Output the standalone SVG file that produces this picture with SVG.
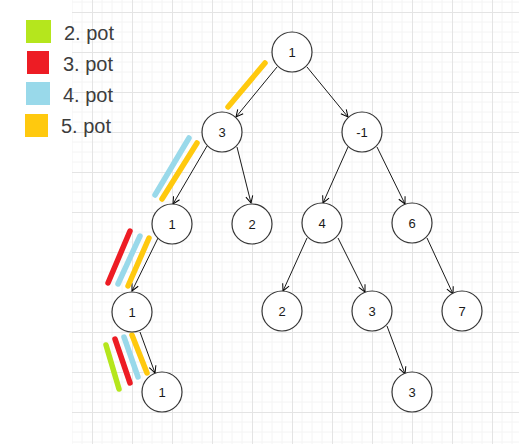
<svg xmlns="http://www.w3.org/2000/svg" width="519" height="444" viewBox="0 0 519 444">
  <defs>
    <pattern id="grid" x="12" y="12" width="40" height="40" patternUnits="userSpaceOnUse">
      <path d="M10,0 V40 M20,0 V40 M30,0 V40 M0,10 H40 M0,20 H40 M0,30 H40" stroke="#f4f4f4" stroke-width="1" fill="none"/>
      <path d="M0.5,0 V40 M0,0.5 H40" stroke="#e4e4e4" stroke-width="1" fill="none"/>
    </pattern>
    <marker id="arr" markerUnits="userSpaceOnUse" markerWidth="10" markerHeight="10" refX="8" refY="5" orient="auto">
      <path d="M1,1.5 L8,5 L1,8.5" fill="none" stroke="#000" stroke-width="1"/>
    </marker>
  </defs>
  <style>
    .node circle { fill: #ffffff; stroke: #363636; stroke-width: 1.2; }
    .node text { font-family: "Liberation Sans", Arial, sans-serif; font-size: 13px; fill: #1a1a1a; text-anchor: middle; }
    .edge { stroke: #1a1a1a; stroke-width: 1; fill: none; marker-end: url(#arr); }
    .mark { stroke-width: 5.5; stroke-linecap: round; fill: none; }
    .legend text { font-family: "Liberation Sans", Arial, sans-serif; font-size: 20px; fill: #3d3d3d; }
  </style>
  <rect x="0" y="0" width="519" height="444" fill="#ffffff"/>
  <rect x="72" y="0" width="447" height="444" fill="url(#grid)"/>

  <g id="legend" class="legend">
    <rect x="26" y="20" width="25" height="23" fill="#b5e61d"/>
    <text x="64" y="40">2. pot</text>
    <rect x="27" y="51" width="22" height="23" fill="#ed1c24"/>
    <text x="63" y="71">3. pot</text>
    <rect x="26" y="82" width="24" height="23" fill="#99d9ea"/>
    <text x="63" y="102">4. pot</text>
    <rect x="25" y="114" width="23" height="23" fill="#ffc90e"/>
    <text x="61" y="133">5. pot</text>
  </g>

  <g id="connectors">
    <line class="edge" x1="277" y1="67" x2="236" y2="117"/>
    <line class="edge" x1="307" y1="67" x2="348" y2="117"/>
    <line class="edge" x1="207" y1="146" x2="173" y2="204"/>
    <line class="edge" x1="237" y1="147" x2="251" y2="203"/>
    <line class="edge" x1="348" y1="147" x2="323" y2="203"/>
    <line class="edge" x1="377" y1="147" x2="405" y2="204"/>
    <line class="edge" x1="307" y1="238" x2="283" y2="291"/>
    <line class="edge" x1="338" y1="238" x2="365" y2="292"/>
    <line class="edge" x1="427" y1="238" x2="453" y2="294"/>
    <line class="edge" x1="387" y1="326" x2="405" y2="374"/>
    <line class="edge" x1="158" y1="238" x2="132" y2="291"/>
    <line class="edge" x1="140" y1="332" x2="155" y2="373"/>
  </g>

  <g id="highlights">
    <line class="mark" stroke="#ffc90e" x1="228" y1="107" x2="265" y2="63"/>
    <line class="mark" stroke="#99d9ea" x1="189" y1="138" x2="155" y2="195"/>
    <line class="mark" stroke="#ffc90e" x1="197" y1="143" x2="162" y2="199"/>
    <line class="mark" stroke="#ed1c24" x1="130" y1="231" x2="108" y2="283"/>
    <line class="mark" stroke="#99d9ea" x1="140" y1="236" x2="118" y2="284"/>
    <line class="mark" stroke="#ffc90e" x1="149" y1="238" x2="128" y2="286"/>
    <line class="mark" stroke="#b5e61d" x1="106" y1="345" x2="119" y2="389"/>
    <line class="mark" stroke="#ed1c24" x1="115" y1="339" x2="130" y2="383"/>
    <line class="mark" stroke="#99d9ea" x1="124" y1="337" x2="138" y2="377"/>
    <line class="mark" stroke="#ffc90e" x1="132" y1="335" x2="147" y2="373"/>
  </g>

  <g id="n_root" class="node"><circle cx="292" cy="52" r="20"/><text x="292" y="56.5">1</text></g>
  <g id="n_3" class="node"><circle cx="222" cy="132" r="20"/><text x="222" y="136.5">3</text></g>
  <g id="n_m1" class="node"><circle cx="362" cy="132" r="20"/><text x="362" y="136.5">-1</text></g>
  <g id="n_1a" class="node"><circle cx="172" cy="224" r="20"/><text x="172" y="228.5">1</text></g>
  <g id="n_2a" class="node"><circle cx="252" cy="224" r="20"/><text x="252" y="228.5">2</text></g>
  <g id="n_4" class="node"><circle cx="322" cy="223" r="20"/><text x="322" y="227.5">4</text></g>
  <g id="n_6" class="node"><circle cx="412" cy="223" r="20"/><text x="412" y="227.5">6</text></g>
  <g id="n_1b" class="node"><circle cx="132" cy="312" r="20"/><text x="132" y="316.5">1</text></g>
  <g id="n_2b" class="node"><circle cx="282" cy="311" r="20"/><text x="282" y="315.5">2</text></g>
  <g id="n_3b" class="node"><circle cx="372" cy="311" r="20"/><text x="372" y="315.5">3</text></g>
  <g id="n_7" class="node"><circle cx="462" cy="311" r="20"/><text x="462" y="315.5">7</text></g>
  <g id="n_1c" class="node"><circle cx="162" cy="392" r="20"/><text x="162" y="396.5">1</text></g>
  <g id="n_3c" class="node"><circle cx="412" cy="392" r="20"/><text x="412" y="396.5">3</text></g>
</svg>
